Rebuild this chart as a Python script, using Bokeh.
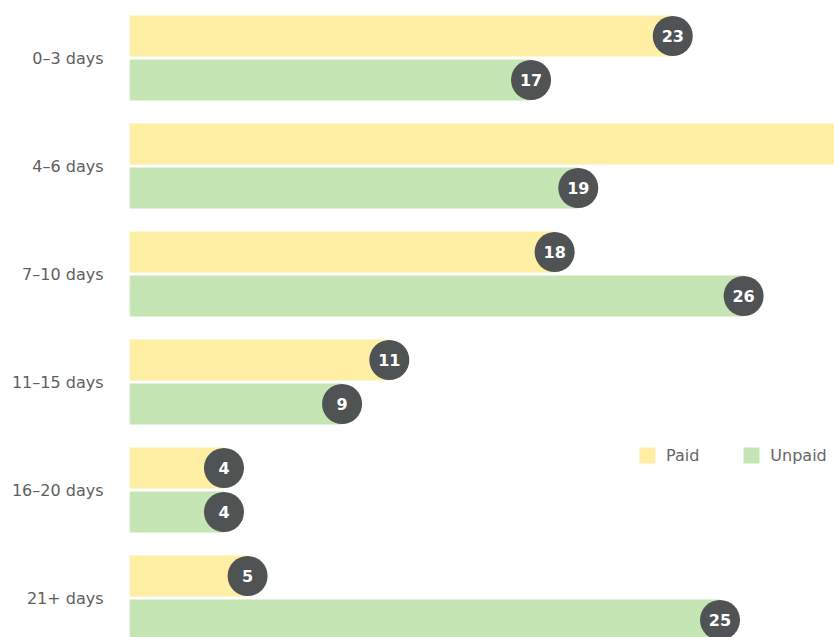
from bokeh.plotting import figure
from bokeh.models import ColumnDataSource, Range1d, FixedTicker, Legend, LegendItem
from bokeh.core.properties import value
from bokeh.embed import file_html
from bokeh.resources import INLINE

categories = ["0–3 days", "4–6 days", "7–10 days", "11–15 days", "16–20 days", "21+ days"]
paid = [23, 31, 18, 11, 4, 5]
unpaid = [17, 19, 26, 9, 4, 25]

PAID_COLOR = "#FEEFA5"
UNPAID_COLOR = "#C6E5B4"
BUBBLE = "#4F5354"
FONT = "DejaVu Sans"

W, H = 834, 637
left = 129
px_per_unit = 23.62
xmax = (W - left) / px_per_unit

pitch = 108.0
bar_h = 41.0 / pitch
off = 22.0 / pitch
ypos = [-i for i in range(len(categories))]

src = ColumnDataSource(dict(
    yp=[y + off for y in ypos],
    yu=[y - off for y in ypos],
    paid=paid,
    unpaid=unpaid,
    paid_s=[str(v) if v < xmax else "" for v in paid],
    unpaid_s=[str(v) if v < xmax else "" for v in unpaid],
))

p = figure(width=W, height=H, output_backend="svg", toolbar_location=None,
           x_range=Range1d(0, xmax),
           y_range=Range1d(-(H - 57.5) / pitch, 57.5 / pitch),
           min_border_left=left, min_border_right=0, min_border_top=0, min_border_bottom=0)
p.outline_line_color = None
p.grid.visible = False
p.xaxis.visible = False
p.background_fill_color = "white"
p.border_fill_color = "white"

yax = p.yaxis[0]
yax.ticker = FixedTicker(ticks=ypos)
yax.major_label_overrides = {y: c for y, c in zip(ypos, categories)}
yax.axis_line_color = None
yax.major_tick_line_color = None
yax.minor_tick_line_color = None
yax.major_tick_in = 0
yax.major_tick_out = 0
yax.major_label_standoff = 26
yax.major_label_text_font = FONT
yax.major_label_text_font_size = "16px"
yax.major_label_text_color = "#5E5E5E"

r_paid = p.hbar(y="yp", left=0, right="paid", height=bar_h, source=src,
                fill_color=PAID_COLOR, line_color=None)
r_unpaid = p.hbar(y="yu", left=0, right="unpaid", height=bar_h, source=src,
                  fill_color=UNPAID_COLOR, line_color=None)

for ycol, xcol, scol in (("yp", "paid", "paid_s"), ("yu", "unpaid", "unpaid_s")):
    p.scatter(x=xcol, y=ycol, size=40, marker="circle", source=src,
              fill_color=BUBBLE, line_color=None)
    p.text(x=xcol, y=ycol, text=scol, source=src, text_align="center",
           text_baseline="middle", text_color="white", text_font=value(FONT),
           text_font_style="bold", text_font_size="16px")

legend = Legend(items=[LegendItem(label="Paid", renderers=[r_paid]),
                       LegendItem(label="Unpaid", renderers=[r_unpaid])],
                orientation="horizontal", location=(508, 172),
                glyph_width=20, glyph_height=20, label_standoff=9, spacing=42,
                padding=0, margin=0, border_line_color=None,
                background_fill_alpha=0, label_text_font=FONT,
                label_text_font_size="16px", label_text_color="#666666",
                label_height=20)
p.add_layout(legend, "center")

open("out.html", "w").write(file_html(p, INLINE))
